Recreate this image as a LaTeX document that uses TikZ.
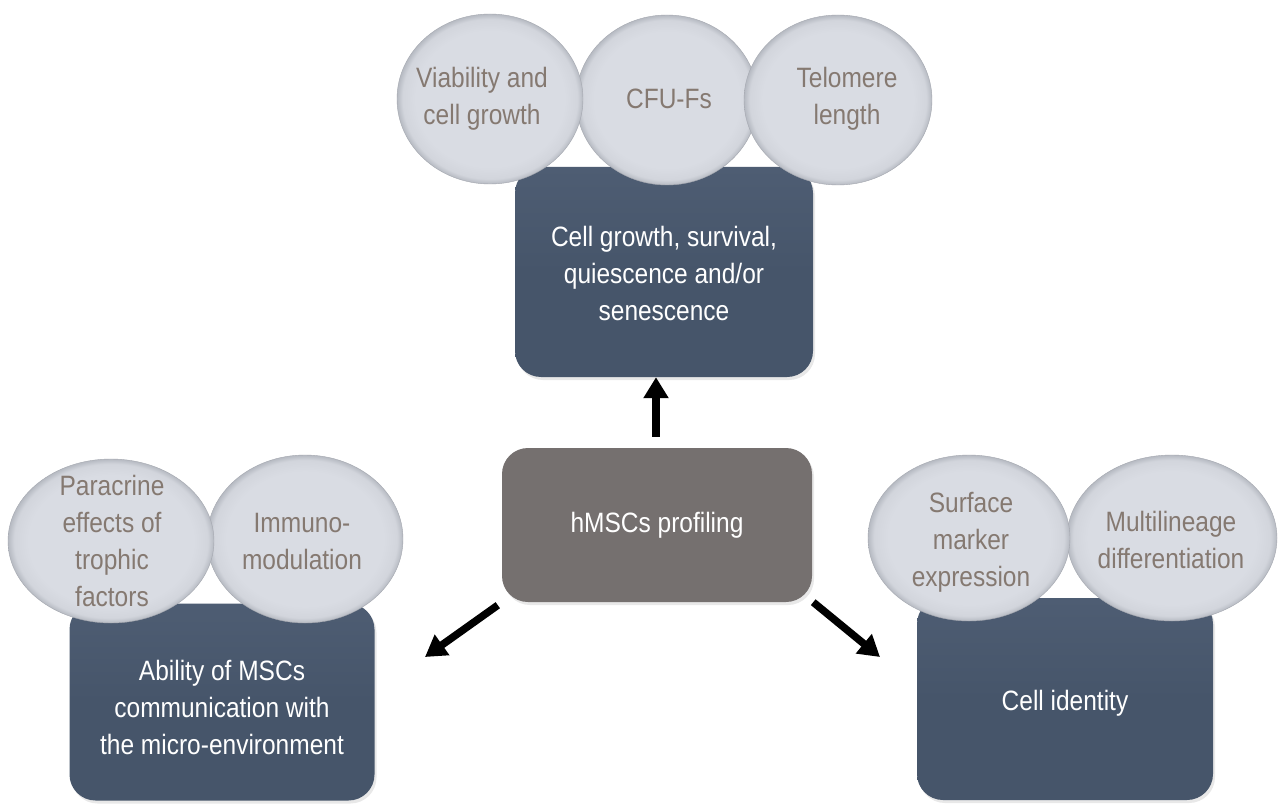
\documentclass[tikz,border=0pt]{standalone}
\usepackage{fontspec}
\newfontfamily\tf{Liberation Sans}[FakeStretch=0.875]
\usetikzlibrary{arrows.meta,shapes.geometric,shadows}
\definecolor{boxc}{HTML}{46556A}
\definecolor{boxtop}{HTML}{4E5D73}
\definecolor{midc}{HTML}{75706F}
\definecolor{ellc}{HTML}{D9DCE3}
\definecolor{ellm}{HTML}{D2D5DC}
\definecolor{elld}{HTML}{B6BAC2}
\definecolor{elltxt}{HTML}{857971}
\pgfdeclareradialshading{bevel}{\pgfpoint{0bp}{0bp}}{color(0bp)=(ellc); color(20bp)=(ellc); color(23.5bp)=(ellm); color(25bp)=(elld); color(50bp)=(elld)}
\tikzset{
  txt/.style={align=center, font=\tf\fontsize{28}{37}\selectfont},
  darkbox/.style={txt, draw=none, rounded corners=26pt, inner sep=0pt, text=white,
    top color=boxtop, bottom color=boxc, middle color=boxc,
    drop shadow={opacity=0.18, shadow xshift=2pt, shadow yshift=-3pt}},
  midbox/.style={txt, draw=none, rounded corners=26pt, inner sep=0pt, text=white,
    fill=midc, drop shadow={opacity=0.18, shadow xshift=2pt, shadow yshift=-3pt}},
  bubble/.style={txt, ellipse, inner sep=0pt, text=elltxt, shading=bevel,
    draw=elld!90!black, line width=0.4pt},
  arr/.style={line width=7.5pt, -{Triangle[width=24pt,length=21pt]}, black}
}
\begin{document}
\begin{tikzpicture}[x=1pt,y=-1pt]
\useasboundingbox[fill=white] (0,0) rectangle (1279,805);
% boxes
\node[darkbox, minimum width=298pt, minimum height=210pt] (top) at (664,272) {};
\node[txt, text=white] (toptxt) at (664,273) {Cell growth, survival,\\quiescence and/or\\senescence};
\node[midbox, minimum width=310pt, minimum height=154pt] (mid) at (657,525) {hMSCs profiling};
\node[darkbox, minimum width=305pt, minimum height=197pt] (left) at (222,702) {};
\node[txt, text=white] (lefttxt) at (222,707) {Ability of MSCs\\communication with\\the micro-environment};
\node[darkbox, minimum width=296pt, minimum height=202pt] (right) at (1065,699) {};
\node[txt, text=white] (righttxt) at (1065,703) {Cell identity};
% top ellipses
\node[bubble, minimum width=182pt, minimum height=170pt] (cfu) at (667,100) {};
\node[txt, text=elltxt] (cfut) at (669,99) {CFU-Fs};
\node[bubble, minimum width=186pt, minimum height=170pt] (via) at (490,99) {};
\node[txt, text=elltxt] (viat) at (482,99) {Viability and\\cell growth};
\node[bubble, minimum width=188pt, minimum height=170pt] (tel) at (838,100) {};
\node[txt, text=elltxt] (telt) at (847,99) {Telomere\\length};
% left ellipses
\node[bubble, minimum width=196pt, minimum height=168pt] (imm) at (305,539) {};
\node[txt, text=elltxt] (immt) at (302,541) {Immuno-\\modulation};
\node[bubble, minimum width=206pt, minimum height=164pt] (par) at (111,541) {};
\node[txt, text=elltxt] (part) at (112,541) {Paracrine\\effects of\\trophic\\factors};
% right ellipses
\node[bubble, minimum width=210pt, minimum height=166pt] (mul) at (1172,538) {};
\node[txt, text=elltxt] (mult) at (1171,540) {Multilineage\\differentiation};
\node[bubble, minimum width=202pt, minimum height=166pt] (sur) at (969,538) {};
\node[txt, text=elltxt] (surt) at (971,542) {Surface\\marker\\expression};
% arrows
\coordinate (lt) at (425,657);
\coordinate (rt) at (880,657);
\draw[arr] ([xshift=-1pt,yshift=11pt]mid.north) -- ([xshift=-1pt]top.south -| mid.north);
\draw[arr] ([xshift=-4pt,yshift=-3pt]mid.south west) -- (lt);
\draw[arr] ([xshift=1pt,yshift=0pt]mid.south east) -- (rt);
\end{tikzpicture}
\end{document}
